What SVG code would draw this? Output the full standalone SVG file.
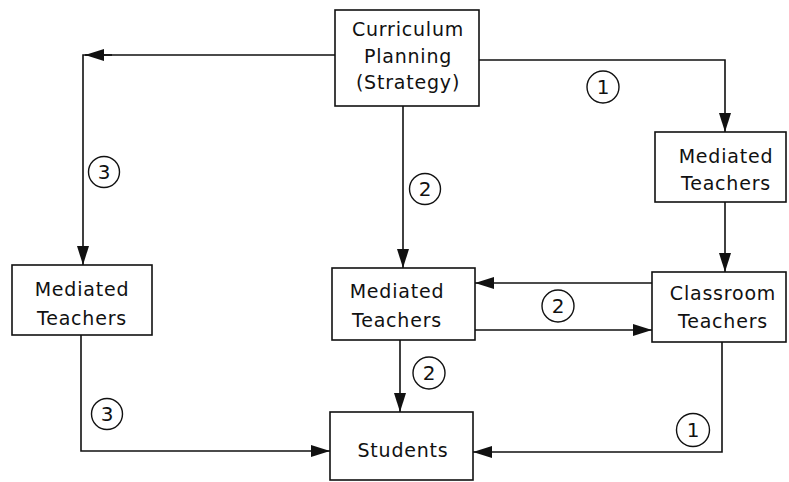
<svg xmlns="http://www.w3.org/2000/svg" width="789" height="482" viewBox="0 0 789 482">
<style>
.box{fill:#fff;stroke:#111;stroke-width:1.6}
.lbl{font-family:"DejaVu Sans",sans-serif;font-size:19px;letter-spacing:0.8px;fill:#111;text-anchor:middle}
.num{font-family:"DejaVu Sans",sans-serif;font-size:20px;fill:#111;text-anchor:middle}
.ring{fill:none;stroke:#111;stroke-width:1.4}
.con{fill:none;stroke:#111;stroke-width:1.6}
</style>
<defs>
<marker id="ah" markerUnits="userSpaceOnUse" markerWidth="20" markerHeight="14" refX="19" refY="7" orient="auto">
<path d="M0,1 L19,7 L0,13 z" fill="#111"/>
</marker>
</defs>
<rect width="789" height="482" fill="#fff"/>
<g id="connectors">
<path class="con" d="M335,55 H83 V265" marker-end="url(#ah)"/>
<path class="con" d="M112,55 H85" marker-end="url(#ah)"/>
<path class="con" d="M479,60 H725 V132" marker-end="url(#ah)"/>
<path class="con" d="M403,106 V268" marker-end="url(#ah)"/>
<path class="con" d="M725,202 V272" marker-end="url(#ah)"/>
<path class="con" d="M652,283 H475" marker-end="url(#ah)"/>
<path class="con" d="M475,330 H652" marker-end="url(#ah)"/>
<path class="con" d="M400,340 V412" marker-end="url(#ah)"/>
<path class="con" d="M81,335 V451 H330" marker-end="url(#ah)"/>
<path class="con" d="M722,342 V452 H473" marker-end="url(#ah)"/>
</g>
<g id="labels">
<circle class="ring" cx="603" cy="87" r="16"/><text class="num" x="603" y="94">1</text>
<circle class="ring" cx="104" cy="172" r="15.5"/><text class="num" x="104" y="179">3</text>
<circle class="ring" cx="425" cy="189" r="15.5"/><text class="num" x="425" y="196">2</text>
<circle class="ring" cx="558" cy="306" r="16"/><text class="num" x="558" y="313">2</text>
<circle class="ring" cx="429" cy="373" r="16"/><text class="num" x="429" y="380">2</text>
<circle class="ring" cx="693" cy="430" r="16.5"/><text class="num" x="693" y="437">1</text>
<circle class="ring" cx="107" cy="414" r="15.5"/><text class="num" x="107" y="421">3</text>
</g>
<g id="curriculum">
<rect class="box" x="335" y="10" width="144" height="96"/>
<text class="lbl" x="408" y="36">Curriculum</text>
<text class="lbl" x="408" y="63">Planning</text>
<text class="lbl" x="408" y="89">(Strategy)</text>
</g>
<g id="mediated-right">
<rect class="box" x="655" y="132" width="131" height="70"/>
<text class="lbl" x="726" y="163">Mediated</text>
<text class="lbl" x="726" y="190">Teachers</text>
</g>
<g id="classroom">
<rect class="box" x="652" y="272" width="134" height="70"/>
<text class="lbl" x="723" y="300">Classroom</text>
<text class="lbl" x="723" y="328">Teachers</text>
</g>
<g id="mediated-middle">
<rect class="box" x="332" y="268" width="143" height="72"/>
<text class="lbl" x="397" y="298">Mediated</text>
<text class="lbl" x="397" y="327">Teachers</text>
</g>
<g id="mediated-left">
<rect class="box" x="12" y="265" width="140" height="70"/>
<text class="lbl" x="82" y="296">Mediated</text>
<text class="lbl" x="82" y="325">Teachers</text>
</g>
<g id="students">
<rect class="box" x="330" y="412" width="143" height="68"/>
<text class="lbl" x="403" y="457">Students</text>
</g>
</svg>
